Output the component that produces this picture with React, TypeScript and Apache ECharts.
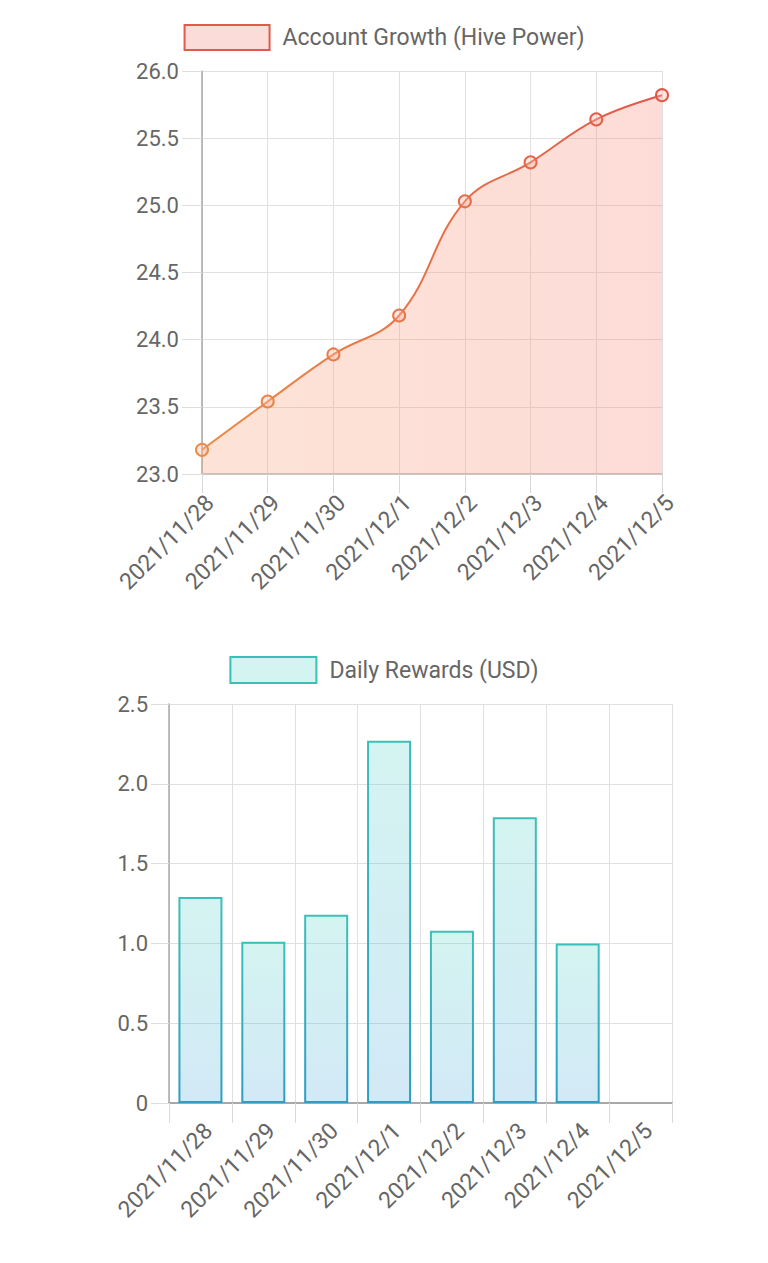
import React, { useEffect, useRef } from "react";
import * as echarts from "echarts";

const categories = [
  "2021/11/28",
  "2021/11/29",
  "2021/11/30",
  "2021/12/1",
  "2021/12/2",
  "2021/12/3",
  "2021/12/4",
  "2021/12/5",
];
const hivePower = [23.18, 23.54, 23.89, 24.18, 25.03, 25.32, 25.64, 25.82];
const dailyRewards: (number | null)[] = [1.29, 1.01, 1.18, 2.27, 1.08, 1.79, 1.0, null];

const topTicks = { min: 23, max: 26, interval: 0.5 };
const bottomTicks = { min: 0, max: 2.5, interval: 0.5 };

const FONT = "Roboto";
const TEXT = "#666666";

function mix(a: number[], b: number[], t: number) {
  const c = a.map((v, i) => Math.round(v + (b[i] - v) * t));
  return `rgb(${c[0]},${c[1]},${c[2]})`;
}

export default function App() {
  const ref = useRef<HTMLDivElement>(null);
  useEffect(() => {
    if (!ref.current) return;
    const chart = echarts.init(ref.current, undefined, { renderer: "svg" });
    const LG = echarts.graphic.LinearGradient;
    const lineStart = [236, 140, 72];
    const lineEnd = [224, 88, 74];
    const n = hivePower.length;
    const lineData = hivePower.map((v, i) => ({
      value: v,
      itemStyle: { borderColor: mix(lineStart, lineEnd, i / (n - 1)) },
    }));

    const axisLabelY = {
      fontFamily: FONT,
      fontSize: 22,
      color: TEXT,
      margin: 23,
    };
    const axisLabelX = {
      fontFamily: FONT,
      fontSize: 23,
      color: TEXT,
      rotate: 45,
      verticalAlign: "top",
      interval: 0,
    };

    chart.setOption({
      animation: false,
      legend: [
        {
          top: 24,
          left: "center",
          padding: 0,
          itemWidth: 85,
          itemHeight: 25,
          textStyle: { fontFamily: FONT, fontSize: 23, color: TEXT, padding: [0, 0, 0, 8] },
          data: [
            {
              name: "Account Growth (Hive Power)",
              icon: "rect",
              itemStyle: { color: "#fcdcd8", borderColor: "#e05b4b", borderWidth: 2 },
            },
          ],
        },
        {
          top: 656,
          left: "center",
          padding: 0,
          itemWidth: 86,
          itemHeight: 26,
          textStyle: { fontFamily: FONT, fontSize: 23, color: TEXT, padding: [0, 0, 0, 8] },
          data: [
            {
              name: "Daily Rewards (USD)",
              icon: "rect",
              itemStyle: { color: "#d4f4f1", borderColor: "#3cbfb7", borderWidth: 2 },
            },
          ],
        },
      ],
      grid: [
        { left: 202, right: 106, top: 71, height: 403 },
        { left: 169, right: 96, top: 704, height: 399 },
      ],
      xAxis: [
        {
          type: "category",
          gridIndex: 0,
          data: categories,
          boundaryGap: false,
          axisLine: { show: true, lineStyle: { color: "#c8c8c8", width: 2 } },
          axisTick: { show: true, length: 19, lineStyle: { color: "#d8d8d8" } },
          splitLine: { show: true, lineStyle: { color: "#e0e0e0" } },
          axisLabel: { ...axisLabelX, margin: 17 },
        },
        {
          type: "category",
          gridIndex: 1,
          data: categories,
          boundaryGap: true,
          axisLine: { show: true, lineStyle: { color: "#a8a8a8", width: 2 } },
          axisTick: { show: true, length: 20, lineStyle: { color: "#d8d8d8" } },
          splitLine: { show: true, lineStyle: { color: "#e0e0e0" } },
          axisLabel: { ...axisLabelX, margin: 16 },
        },
      ],
      yAxis: [
        {
          type: "value",
          gridIndex: 0,
          ...topTicks,
          axisLine: { show: true, lineStyle: { color: "#a8a8a8", width: 1.5 } },
          axisTick: { show: true, length: 20, lineStyle: { color: "#dddddd" } },
          splitLine: { show: true, lineStyle: { color: "#e0e0e0" } },
          axisLabel: { ...axisLabelY, formatter: (v: number) => v.toFixed(1) },
        },
        {
          type: "value",
          gridIndex: 1,
          ...bottomTicks,
          axisLine: { show: true, lineStyle: { color: "#a8a8a8", width: 1.5 } },
          axisTick: { show: true, length: 18, lineStyle: { color: "#dddddd" } },
          splitLine: { show: true, lineStyle: { color: "#e0e0e0" } },
          axisLabel: {
            ...axisLabelY,
            margin: 21,
            formatter: (v: number) => (v === 0 ? "0" : v.toFixed(1)),
          },
        },
      ],
      series: [
        {
          name: "Account Growth (Hive Power)",
          type: "line",
          xAxisIndex: 0,
          yAxisIndex: 0,
          data: lineData,
          smooth: 0.4,
          symbol: "circle",
          symbolSize: 12,
          itemStyle: { color: "rgba(250,185,165,0.35)", borderWidth: 2 },
          lineStyle: {
            width: 2,
            color: new LG(0, 0, 1, 0, [
              { offset: 0, color: "#ec8c48" },
              { offset: 1, color: "#e0584a" },
            ]),
          },
          areaStyle: {
            opacity: 1,
            color: new LG(0, 0, 1, 0, [
              { offset: 0, color: "rgba(248,162,118,0.3)" },
              { offset: 1, color: "rgba(248,138,125,0.3)" },
            ]),
          },
          emphasis: { disabled: true },
        },
        {
          name: "Daily Rewards (USD)",
          type: "bar",
          xAxisIndex: 1,
          yAxisIndex: 1,
          data: dailyRewards,
          barWidth: "70%",
          itemStyle: {
            color: new LG(0, 0, 0, 1, [
              { offset: 0, color: "rgba(83,211,199,0.25)" },
              { offset: 1, color: "rgba(75,167,219,0.25)" },
            ]),
            borderColor: new LG(0, 0, 0, 1, [
              { offset: 0, color: "#3dbfb8" },
              { offset: 1, color: "#2d9ec4" },
            ]),
            borderWidth: 2,
          },
          emphasis: { disabled: true },
        },
      ],
    });
    return () => chart.dispose();
  }, []);
  return (
    <div
      ref={ref}
      style={{ position: "absolute", left: 0, top: 0, width: 768, height: 1263, background: "#fff" }}
    />
  );
}
